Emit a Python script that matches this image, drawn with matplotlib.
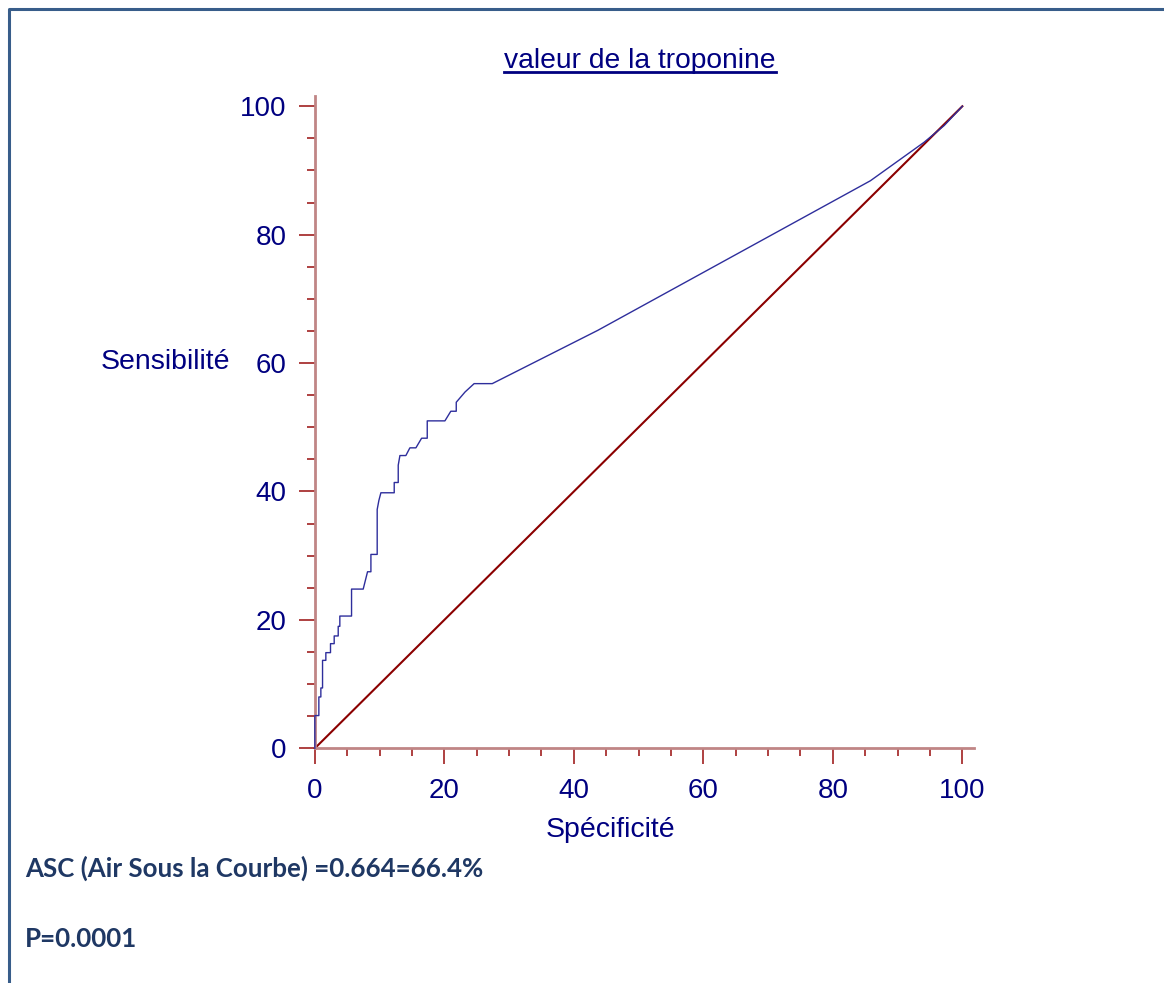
import matplotlib
matplotlib.use("Agg")
import matplotlib.pyplot as plt
from matplotlib.lines import Line2D
from matplotlib.ticker import MultipleLocator

# ============================================================================
# Data: ROC curve vertices (x = Spécificité axis, y = Sensibilité)
# ============================================================================

spec_pts = [0, 0, 0.62, 0.62, 0.93, 0.93, 1.19, 1.19, 1.70, 1.70, 2.42, 2.42,
            2.99, 2.99, 3.61, 3.61, 3.86, 3.86, 5.67, 5.67, 7.47, 8.14, 8.66,
            8.66, 9.63, 9.63, 9.89, 10.2, 12.26, 12.26, 12.88, 12.88, 13.14,
            14.06, 14.68, 15.61, 16.49, 17.36, 17.36, 20.09, 21.0, 21.84, 21.84,
            23.2, 24.6, 27.4, 43.7, 85.8, 94.1, 97.2, 100]
sens_pts = [0, 5.1, 5.1, 8.0, 8.0, 9.4, 9.4, 13.7, 13.7, 14.9, 14.9, 16.3,
            16.3, 17.5, 17.5, 19.0, 19.0, 20.6, 20.6, 24.8, 24.8, 27.5, 27.5,
            30.2, 30.2, 37.2, 38.6, 39.8, 39.8, 41.4, 41.4, 44.1, 45.6,
            45.6, 46.8, 46.8, 48.3, 48.3, 51.0, 51.0, 52.5, 52.5, 53.9,
            55.5, 56.8, 56.8, 65.1, 88.4, 94.4, 97.0, 100]

ref_line = [0, 100]
x_ticks = [0, 20, 40, 60, 80, 100]
y_ticks = [0, 20, 40, 60, 80, 100]

title = "valeur de la troponine"
x_label = "Spécificité"
y_label = "Sensibilité"
auc_text = "ASC (Air Sous la Courbe) =0.664=66.4%"
p_text = "P=0.0001"

# ============================================================================
# Figure
# ============================================================================

W, H = 1164, 983
fig = plt.figure(figsize=(W / 100, H / 100), dpi=100)
fig.patch.set_facecolor("white")

navy = "#000080"
spine_col = "#c08585"
tick_col = "#a83232"

ax = fig.add_axes([298 / W, 1 - 765 / H, 676 / W, 669 / H])
ax.set_xlim(-2.6, 101.8)
ax.set_ylim(-2.6, 101.6)

ax.plot(ref_line, ref_line, color="#8b0000", lw=1.5, zorder=2)
ax.plot(spec_pts, sens_pts, color="#2e2e9c", lw=1.0, zorder=3)

# spines crossing at the origin
for side in ["top", "right"]:
    ax.spines[side].set_visible(False)
ax.spines["left"].set_position(("data", 0))
ax.spines["bottom"].set_position(("data", 0))
for side in ["left", "bottom"]:
    ax.spines[side].set_color(spine_col)
    ax.spines[side].set_linewidth(2)
ax.spines["left"].set_bounds(0, 101.6)
ax.spines["bottom"].set_bounds(0, 101.8)

ax.set_xticks(x_ticks)
ax.set_yticks(y_ticks)
ax.xaxis.set_minor_locator(MultipleLocator(5))
ax.yaxis.set_minor_locator(MultipleLocator(5))
ax.tick_params(which="major", direction="out", length=11.5, width=1.3,
               color=tick_col, labelcolor=navy, labelsize=20)
ax.tick_params(axis="x", which="major", pad=10)
ax.tick_params(axis="y", which="major", pad=9)
ax.tick_params(which="minor", direction="out", length=5.8, width=1.3,
               color=tick_col)
for lab in ax.get_xticklabels() + ax.get_yticklabels():
    lab.set_family("Liberation Sans")

# axis titles and chart title
fig.text(610 / W, 1 - 830 / H, x_label, ha="center", va="center",
         fontsize=20.5, color=navy, family="Liberation Sans")
fig.text(101 / W, 1 - 362 / H, y_label, ha="left", va="center",
         fontsize=20.5, color=navy, family="Liberation Sans")
t = fig.text(640 / W, 1 - 68 / H, title, ha="center", va="baseline",
             fontsize=20.3, color=navy, family="Liberation Sans")

# bottom notes
fig.text(25 / W, 1 - 877 / H, auc_text, ha="left", va="baseline",
         fontsize=18.6, fontweight="bold", color="#1f3864", family="Lato")
fig.text(25 / W, 1 - 947 / H, p_text, ha="left", va="baseline",
         fontsize=18.6, fontweight="bold", color="#1f3864", family="Lato")

# underline under the title
fig.canvas.draw()
bb = t.get_window_extent()
uy = 1 - 72 / H
fig.add_artist(Line2D([bb.x0 / W, bb.x1 / W], [uy, uy], color=navy, lw=2,
                      transform=fig.transFigure))

# page frame (left and top edges)
fig.add_artist(Line2D([9 / W, 9 / W, 1], [0, 1 - 9 / H, 1 - 9 / H],
                      color="#385d8a", lw=2.2, transform=fig.transFigure))

fig.savefig("out.png", dpi=100)
